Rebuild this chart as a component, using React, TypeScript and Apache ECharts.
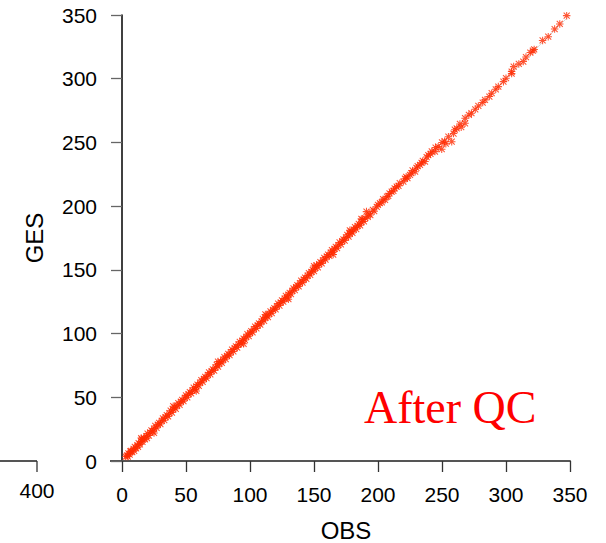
import React, { useEffect, useRef } from "react";
import * as echarts from "echarts";

const axisTicks = [0, 50, 100, 150, 200, 250, 300, 350];

// [OBS, GES] pairs: dense low range
const densePairs: number[][] = [
  [3, 3.5], [4, 4.5], [4.5, 3.5], [5, 6], [6, 5], [6.5, 7.5], [7, 8], [8, 7], [9, 9.5], [9.5, 8], [10, 11],
  [11, 10], [12, 12.5], [12.5, 11], [13, 14], [14, 13], [15, 15.5], [15.5, 17], [16, 15], [17, 18], [18, 17],
  [19, 19.5], [19.5, 18], [20, 21.5], [21, 20], [22, 22.5], [23, 24], [24, 23], [25, 25.5], [26, 27.5],
  [27, 26], [28, 28.5], [29, 30], [30, 29], [31, 31.5], [32, 33.5], [33, 32], [34, 34.5], [35, 36], [36, 35],
  [37, 37.5], [38, 39.5], [39, 38], [40, 40.5], [41, 42], [42, 41], [43, 43.5], [44, 45.5], [45, 44],
  [46, 46.5], [47, 48], [48, 47], [49, 49.5], [50, 51.5], [51, 50], [52, 52.5], [53, 54], [54, 53],
  [55, 55.5], [56, 57.5], [57, 56], [58, 58.5], [59, 60], [60, 59], [61, 61.5], [62, 63.5], [63, 62],
  [64, 64.5], [65, 66], [66, 65], [67, 67.5], [68, 69.5], [69, 68], [70, 70.5], [71, 72], [72, 71],
  [73, 73.5], [74, 75.5], [75, 74], [76, 76.5], [77, 78], [78, 77], [79, 79.5], [80, 81.5], [81, 80],
  [82, 82.5], [83, 84], [84, 83], [85, 85.5], [86, 87.5], [87, 86], [88, 88.5], [89, 90], [90, 89],
  [91, 91.5], [92, 93.5], [93, 92], [94, 94.5], [95, 96], [96, 95], [97, 97.5], [98, 99.5], [99, 98],
  [100, 100.5], [101, 102], [102, 101], [103, 103.5], [104, 105.5], [105, 104], [106, 106.5], [107, 108],
  [108, 107], [109, 109.5], [110, 111.5], [111, 110], [112, 112.5], [113, 114], [114, 113], [115, 115.5],
  [116, 117.5], [117, 116], [118, 118.5], [119, 120], [120, 119], [121, 121.5], [122, 123.5], [123, 122],
  [124, 124.5], [125, 126], [126, 125], [127, 127.5], [128, 129.5], [129, 128], [130, 130.5], [131, 132],
  [132, 131], [133, 133.5], [134, 135.5], [135, 134], [136, 136.5], [137, 138], [138, 137], [139, 139.5],
  [140, 141.5], [141, 140], [142, 142.5], [143, 144], [144, 143], [145, 145.5], [146, 147.5], [147, 146],
  [148, 148.5], [149, 150], [150, 149], [151, 151.5], [152, 153.5], [153, 152], [154, 154.5], [155, 156],
  [156, 155], [157, 157.5], [158, 159.5], [159, 158], [160, 160.5], [161, 162], [162, 161], [163, 163.5],
  [164, 165.5], [165, 164], [166, 166.5], [167, 168], [168, 167], [169, 169.5], [170, 171.5], [171, 170],
  [172, 172.5], [173, 174], [174, 173], [175, 175.5], [176, 177.5], [177, 176], [178, 178.5], [179, 180],
  [180, 179], [181, 181.5], [182, 183.5], [183, 182], [184, 184.5], [185, 186], [186, 185], [187, 187.5],
  [188, 189.5], [189, 188], [190, 190.5],
  [15, 18], [25, 22], [40, 43], [58, 55], [75, 78], [95, 92], [112, 115], [130, 127], [150, 153],
  [165, 162], [178, 181], [187, 190],
];

// [OBS, GES] pairs: middle range, thinner and noisier
const midPairs: number[][] = [
  [191, 195.7], [192, 191.5], [193, 194], [194, 193], [196, 197], [197, 196], [199, 199.5], [200, 201],
  [201.5, 202.3], [203, 203], [204, 205.5], [205.5, 204.9], [207, 207.5], [208, 208], [209, 210],
  [210.7, 211.4], [212, 212], [213, 214], [214.6, 215.3], [216, 216], [217, 218], [219.8, 219.2],
  [221, 221.5], [222, 223], [223, 222], [225, 224.5], [226, 226], [227, 228], [229, 227], [230, 230],
  [231, 231.5], [232.8, 232.3], [234, 234], [235, 235.5], [236.7, 235], [238, 238.5], [239.3, 240],
  [241, 241], [242, 243], [244.5, 242.8], [245, 246], [247, 246.7], [249.8, 244.7], [250, 250], [252, 251],
  [253, 249], [255, 254.5], [257.6, 250.6], [259, 257], [260, 260], [261.5, 261], [264, 264.5], [265, 262],
  [268, 265],
];

// [OBS, GES] pairs: sparse high range
const highPairs: number[][] = [
  [268, 269], [271, 271.6], [273, 272.9], [276, 276], [278.4, 278.6], [281.8, 281.3], [283.6, 283.4],
  [287, 286], [288.8, 288.6], [292, 291.7], [294, 293.8], [298, 297.7], [300, 300.4], [304.4, 305.6],
  [304.4, 304], [306, 309.5], [310, 311.6], [313.5, 313.5], [315.6, 317], [319, 320.5], [321, 322],
  [322, 323], [328.6, 330], [333, 333], [338, 339], [342, 343], [347.4, 349.5],
];

const refLine = [
  [3, 3],
  [348, 348],
];

const points = [...densePairs, ...midPairs, ...highPairs];

const asterisk =
  "path://M0,4.3H10V5.7H0Z M4.3,0H5.7V10H4.3Z M1.5,0.5L9.5,8.5L8.5,9.5L0.5,1.5Z M8.5,0.5L9.5,1.5L1.5,9.5L0.5,8.5Z";

const FONT = "'Liberation Sans', Arial, Helvetica, sans-serif";

export default function App() {
  const ref = useRef<HTMLDivElement>(null);

  useEffect(() => {
    if (!ref.current) return;
    const chart = echarts.init(ref.current, undefined, { renderer: "svg" });
    const tickLabel = { fontSize: 21, color: "#000", fontFamily: FONT };
    chart.setOption({
      animation: false,
      backgroundColor: "#fff",
      grid: {
        left: 122,
        top: 15,
        right: 36,
        bottom: 82,
        containLabel: false,
        outerBoundsMode: "none",
      },
      xAxis: {
        type: "value",
        min: axisTicks[0],
        max: axisTicks[axisTicks.length - 1],
        interval: 50,
        name: "OBS",
        nameLocation: "middle",
        nameGap: 57,
        nameTextStyle: { fontSize: 24, color: "#000", fontFamily: FONT },
        axisLine: { show: true, onZero: false, lineStyle: { color: "#555", width: 2 } },
        axisTick: { show: true, length: 11, lineStyle: { color: "#333", width: 1.3 } },
        axisLabel: { ...tickLabel, margin: 23 },
        splitLine: { show: false },
      },
      yAxis: {
        type: "value",
        min: axisTicks[0],
        max: axisTicks[axisTicks.length - 1],
        interval: 50,
        name: "GES",
        nameLocation: "middle",
        nameGap: 76,
        nameTextStyle: { fontSize: 24, color: "#000", fontFamily: FONT },
        axisLine: { show: true, onZero: false, lineStyle: { color: "#000", width: 1.5 } },
        axisTick: { show: true, length: 11, lineStyle: { color: "#666", width: 1.3 } },
        axisLabel: { ...tickLabel, margin: 25 },
        splitLine: { show: false },
      },
      series: [
        {
          type: "line",
          data: refLine,
          symbol: "none",
          lineStyle: { color: "#d6d6d6", width: 1 },
          z: 1,
          silent: true,
        },
        {
          type: "scatter",
          data: points,
          symbol: asterisk,
          symbolSize: 7.5,
          itemStyle: { color: "#ff2a00" },
          z: 2,
        },
      ],
      graphic: [
        {
          type: "line",
          shape: { x1: 110, y1: 461, x2: 122, y2: 461 },
          style: { stroke: "#555", lineWidth: 2 },
        },
        {
          type: "line",
          shape: { x1: 0, y1: 461, x2: 37, y2: 461 },
          style: { stroke: "#555", lineWidth: 2 },
        },
        {
          type: "line",
          shape: { x1: 37, y1: 461, x2: 37, y2: 472 },
          style: { stroke: "#333", lineWidth: 1.3 },
        },
        {
          type: "text",
          x: 37,
          y: 490,
          style: {
            text: "400",
            fontSize: 21,
            fontFamily: FONT,
            fill: "#000",
            align: "center",
            verticalAlign: "middle",
          },
        },
        {
          type: "text",
          x: 364,
          y: 407,
          style: {
            text: "After QC",
            fontSize: 46,
            fontFamily: "'Liberation Serif', 'Times New Roman', serif",
            fill: "#ff0000",
            align: "left",
            verticalAlign: "middle",
          },
        },
      ],
    });
    return () => chart.dispose();
  }, []);

  return (
    <div
      ref={ref}
      style={{ position: "fixed", left: 0, top: 0, width: 606, height: 543 }}
    />
  );
}
